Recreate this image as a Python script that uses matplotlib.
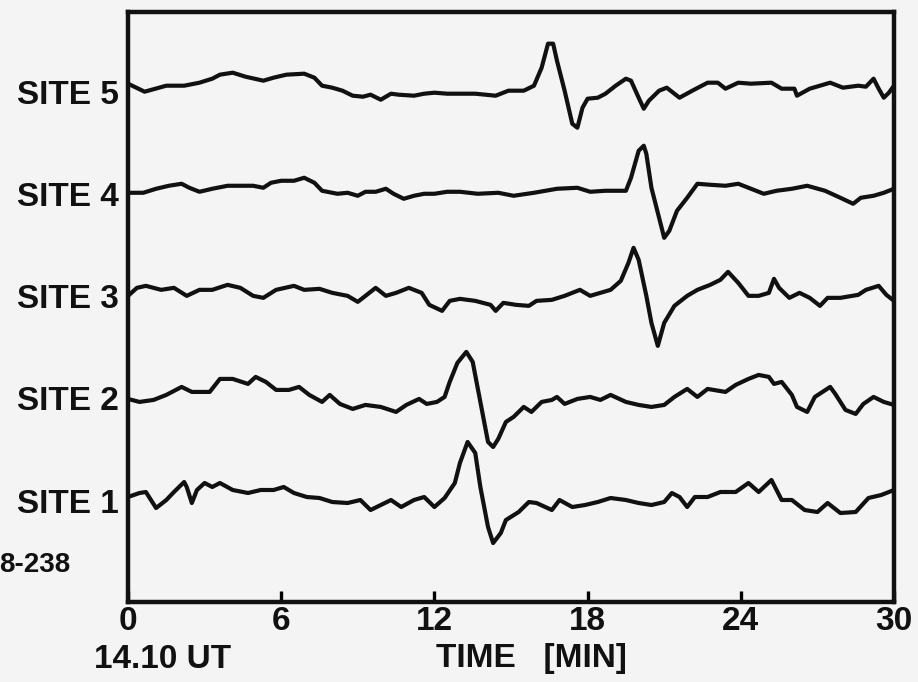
import numpy as np
import matplotlib
matplotlib.use("Agg")
import matplotlib.pyplot as plt

plt.rcParams['font.family'] = ['Liberation Sans', 'DejaVu Sans']
plt.rcParams['font.weight'] = 'bold'

sites = ["SITE 1", "SITE 2", "SITE 3", "SITE 4", "SITE 5"]
offsets = [1, 2, 3, 4, 5]
scale = 102.0

t1 = [0, 0.45, 0.7, 1.1, 1.5, 1.8, 2.2, 2.3, 2.5, 2.7, 3.0, 3.3, 3.6, 4.1, 4.7, 5.2, 5.7, 6.1, 6.5, 7.0,
      7.5, 8.0, 8.6, 9.1, 9.5, 9.9, 10.3, 10.7, 11.2, 11.6, 12.0, 12.4, 12.8, 13.0, 13.3, 13.6, 13.8, 14.1,
      14.3, 14.6, 14.8, 15.3, 15.7, 16.0, 16.6, 16.9, 17.4, 17.9, 18.4, 18.9, 19.5, 20.0, 20.5, 21.0, 21.3,
      21.6, 21.9, 22.2, 22.7, 23.2, 23.8, 24.3, 24.7, 25.2, 25.6, 26.0, 26.5, 27.0, 27.4, 27.9, 28.5, 29.0,
      29.5, 30]
d1 = [7, 11, 12, -4, 4, 12, 22, 17, 1, 14, 21, 17, 21, 14, 11, 14, 14, 17, 11, 7,
      6, 2, 1, 4, -6, -1, 4, -3, 4, 7, -3, 6, 21, 41, 62, 51, 17, -23,
      -39, -29, -16, -8, 2, 1, -6, 4, -3, -1, 2, 6, 4, 1, -1, 2, 11,
      7, -3, 7, 7, 12, 12, 21, 12, 24, 4, 4, -6, -8, 1, -9, -8, 6,
      9, 14]

t2 = [0, 0.45, 1.0, 1.5, 2.1, 2.5, 3.2, 3.6, 4.1, 4.7, 5.0, 5.4, 5.8, 6.3, 6.7, 7.1, 7.6, 7.9, 8.3, 8.8,
      9.3, 9.9, 10.5, 10.9, 11.4, 11.7, 12.1, 12.4, 12.6, 12.9, 13.25, 13.5, 13.8, 14.1, 14.3, 14.5, 14.8,
      15.1, 15.5, 15.8, 16.2, 16.6, 16.8, 17.1, 17.6, 18.1, 18.5, 18.9, 19.5, 20.0, 20.5, 21.0, 21.4, 21.9,
      22.3, 22.7, 23.4, 23.8, 24.3, 24.7, 25.1, 25.3, 25.6, 26.0, 26.2, 26.6, 26.9, 27.2, 27.5, 27.7, 28.1,
      28.5, 28.8, 29.2, 29.6, 30]
d2 = [3, 0, 2, 7, 15, 10, 10, 23, 23, 18, 25, 20, 12, 12, 15, 7, 0, 7, -2, -7,
      -3, -5, -10, -3, 3, -2, 0, 5, 20, 39, 50, 40, 0, -40, -45, -37, -20,
      -15, -5, -10, 0, 2, 5, -2, 3, 5, 2, 7, 0, -3, -5, -3, 5, 13,
      5, 13, 10, 17, 23, 27, 25, 18, 20, 7, -5, -10, 5, 10, 15, 8, -8,
      -12, -2, 5, 0, -3]

t3 = [0, 0.35, 0.7, 1.3, 1.8, 2.3, 2.8, 3.3, 3.9, 4.4, 4.9, 5.3, 5.8, 6.5, 6.9, 7.5, 8.0, 8.6, 9.0, 9.3,
      9.7, 10.1, 10.5, 11.0, 11.5, 11.8, 12.3, 12.6, 13.0, 13.6, 14.2, 14.4, 14.7, 15.2, 15.7, 16.0, 16.6,
      17.1, 17.7, 18.1, 18.5, 18.9, 19.3, 19.6, 19.8, 20.0, 20.3, 20.5, 20.75, 21.0, 21.4, 21.9, 22.3, 22.8,
      23.2, 23.5, 23.9, 24.3, 24.7, 25.1, 25.3, 25.5, 25.9, 26.3, 26.7, 27.1, 27.4, 27.9, 28.6, 28.9, 29.4,
      29.7, 30]
d3 = [4, 12, 14, 10, 12, 4, 10, 10, 15, 12, 4, 2, 10, 14, 10, 11, 7, 4, -2, 4,
      12, 4, 7, 12, 7, -5, -11, -1, 1, -1, -5, -11, -3, -5, -6, -1, 0,
      4, 10, 4, 7, 10, 19, 37, 52, 40, 4, -23, -46, -23, -6, 4, 10, 15,
      20, 28, 17, 4, 4, 7, 21, 12, 2, 7, 2, -6, 2, 2, 5, 10, 14,
      5, -1]

t4 = [0, 0.6, 1.1, 1.6, 2.1, 2.4, 2.8, 3.3, 3.9, 4.4, 4.9, 5.3, 5.6, 6.0, 6.5, 6.9, 7.3, 7.6, 8.2, 8.6,
      9.0, 9.3, 9.7, 10.1, 10.4, 10.8, 11.2, 11.6, 12.0, 12.5, 13.0, 13.7, 14.5, 15.1, 15.9, 16.8, 17.6,
      18.1, 18.7, 19.2, 19.5, 19.7, 20.0, 20.2, 20.3, 20.5, 20.8, 21.0, 21.2, 21.5, 21.9, 22.3, 22.8, 23.4,
      23.9, 24.4, 24.9, 25.4, 26.0, 26.6, 27.3, 27.9, 28.4, 28.7, 29.2, 29.6, 30]
d4 = [5, 5, 9, 12, 14, 10, 6, 9, 12, 12, 12, 10, 15, 17, 17, 20, 15, 7, 4, 5,
      2, 6, 6, 9, 4, -1, 2, 4, 4, 6, 6, 4, 5, 2, 5, 9, 10,
      6, 7, 7, 7, 20, 47, 52, 44, 10, -20, -40, -33, -13, 0, 14, 13, 12,
      14, 9, 4, 7, 9, 12, 7, 0, -6, 0, 2, 5, 9]

t5 = [0, 0.65, 1.5, 2.2, 2.8, 3.3, 3.6, 4.1, 4.6, 5.3, 5.7, 6.2, 6.9, 7.3, 7.6, 8.0, 8.4, 8.8, 9.2, 9.5,
      9.9, 10.3, 10.6, 11.2, 11.6, 12.0, 12.5, 13.0, 13.6, 14.4, 14.9, 15.5, 15.9, 16.2, 16.45, 16.65, 16.8,
      17.1, 17.4, 17.6, 17.8, 18.0, 18.4, 18.7, 19.1, 19.5, 19.7, 20.0, 20.2, 20.4, 20.8, 21.1, 21.6, 22.1,
      22.7, 23.1, 23.4, 23.9, 24.4, 25.2, 25.6, 26.1, 26.2, 26.7, 27.5, 28.0, 28.6, 28.9, 29.2, 29.4, 29.6,
      29.8, 30]
d5 = [12, 4, 10, 10, 13, 17, 21, 23, 19, 15, 18, 21, 22, 18, 10, 8, 5, 0, -1, 1,
      -4, 2, 1, 0, 2, 3, 2, 2, 2, 0, 5, 5, 10, 28, 52, 52, 35,
      5, -28, -32, -12, -3, -2, 2, 10, 17, 15, -2, -13, -5, 5, 8, -2, 5,
      13, 13, 7, 13, 12, 13, 7, 7, 0, 7, 13, 8, 10, 9, 17, 7, -2,
      3, 10]

times = [t1, t2, t3, t4, t5]
defl = [d1, d2, d3, d4, d5]

xticks = [0, 6, 12, 18, 24, 30]
xticklabels = ["0", "6", "12", "18", "24", "30"]

bg = '#f4f4f4'
ink = '#111111'
fig = plt.figure(figsize=(9.18, 6.82), dpi=100, facecolor=bg)
ax = fig.add_axes([128/918, 80/682, 766/918, 590/682], facecolor=bg)

for t, d, off in zip(times, defl, offsets):
    ax.plot(t, off + np.array(d)/scale, color=ink, lw=3.0,
            solid_joinstyle='round', solid_capstyle='round', clip_on=False)

ax.set_xlim(0, 30)
ax.set_ylim(0.04, 5.82)
ax.set_xticks(xticks)
ax.set_xticklabels(xticklabels, fontsize=24, fontweight='bold', color=ink)
ax.tick_params(axis='x', direction='in', length=8, width=2.4, pad=3)
ax.set_yticks([])
for s in ax.spines.values():
    s.set_linewidth(3.2)
    s.set_color(ink)

for name, off in zip(sites, offsets):
    ax.text(-0.012, off, name, transform=ax.get_yaxis_transform(), ha='right', va='center',
            fontsize=24, fontweight='bold', color=ink)

fig.text(163/918, 1 - 659/682, "14.10 UT", ha='center', va='center', fontsize=24,
         fontweight='bold', color=ink)
fig.text(531/918, 1 - 659/682, "TIME   [MIN]", ha='center', va='center', fontsize=24,
         fontweight='bold', color=ink)
fig.text(70/918, 1 - 565/682, "8-238", ha='right', va='center', fontsize=20,
         fontweight='bold', color=ink)

fig.savefig("out.png", dpi=100, facecolor=bg)
